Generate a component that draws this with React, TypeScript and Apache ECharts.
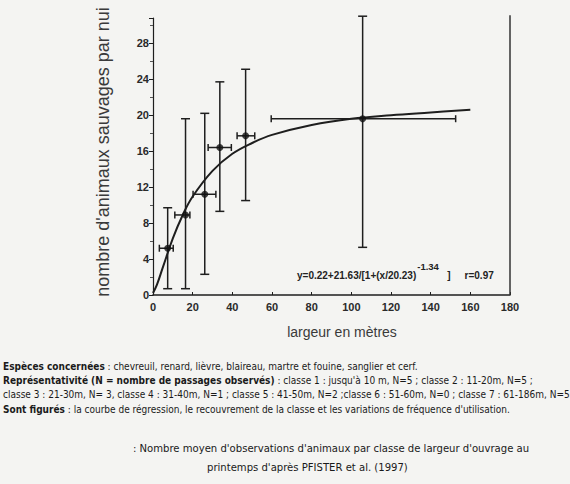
import React, { useEffect, useRef } from "react";
import * as echarts from "echarts";

// Class data
const classX = [7.4, 16.4, 26.1, 33.7, 46.7, 105.7];
const meanY = [5.2, 8.9, 11.2, 16.4, 17.7, 19.6];
const xLow = [3.2, 11.0, 20.2, 27.8, 42.4, 59.6];
const xHigh = [10.2, 18.6, 31.7, 39.5, 51.3, 152.6];
const yLow = [0.7, 0.7, 2.3, 9.3, 10.5, 5.3];
const yHigh = [9.7, 19.6, 20.2, 23.7, 25.1, 31.0];

// Regression curve
const curveX = [0, 2, 5, 10, 15, 20, 30, 40, 50, 60, 80, 100, 120, 140, 160];
const curveY = [0.22, 1.15, 3.1, 6.3, 8.9, 10.95, 13.8, 15.7, 16.9, 17.8, 18.9, 19.6, 20.0, 20.3, 20.6];

// Right frame line
const frameX = [180, 180];
const frameY = [0, 31.1];

const xTicks = [0, 20, 40, 60, 80, 100, 120, 140, 160, 180];
const yTicks = [0, 4, 8, 12, 16, 20, 24, 28];

const yAxisName = "nombre d'animaux sauvages par nui";
const xAxisName = "largeur en mètres";
const equationMain = "y=0.22+21.63/[1+(x/20.23)";
const equationExp = "-1.34";
const equationEnd = "]";
const corr = "r=0.97";

const legendLines = [
  { bold: "Espèces concernées", rest: " : chevreuil, renard, lièvre, blaireau, martre et fouine, sanglier et cerf." },
  { bold: "Représentativité (N = nombre de passages observés)", rest: " : classe 1 : jusqu'à 10 m, N=5 ; classe 2 : 11-20m, N=5 ;" },
  { bold: "", rest: "classe 3 : 21-30m, N= 3, classe 4 : 31-40m, N=1 ; classe 5 : 41-50m, N=2 ;classe 6 : 51-60m, N=0 ; classe 7 : 61-186m, N=5" },
  { bold: "Sont figurés", rest: " : la courbe de régression, le recouvrement de la classe et les variations de fréquence d'utilisation." },
];
const captionLine1 = ": Nombre moyen d'observations d'animaux par classe de largeur d'ouvrage au";
const captionLine2 = "printemps d'après PFISTER et al. (1997)";

export default function App() {
  const ref = useRef<HTMLDivElement>(null);
  useEffect(() => {
    document.body.style.margin = "0";
    const chart = echarts.init(ref.current!, null, { renderer: "svg" });
    const ink = "#1e1e1e";
    const capFont = "'DejaVu Sans Condensed', 'Liberation Sans Narrow', Lato, sans-serif";
    const errData = classX.map((x, i) => [x, meanY[i], xLow[i], xHigh[i], yLow[i], yHigh[i]]);
    const legendY = [366, 380, 394, 409];
    const option: any = {
      animation: false,
      backgroundColor: "#f4f4f2",
      grid: { left: 153, right: 60, top: 18, bottom: 189, containLabel: false },
      xAxis: {
        type: "value",
        min: 0,
        max: 180,
        interval: 20,
        axisLine: { show: true, lineStyle: { color: ink, width: 1.6 } },
        axisTick: { show: true, inside: true, length: 3, lineStyle: { color: ink } },
        splitLine: { show: false },
        axisLabel: {
          color: "#2a2a2a",
          fontWeight: "bold",
          fontSize: 11,
          fontFamily: "'Liberation Sans', Arial, sans-serif",
          margin: 6,
          formatter: (v: number) => (xTicks.includes(v) ? String(v) : ""),
        },
      },
      yAxis: {
        type: "value",
        min: 0,
        max: 30.8,
        interval: 4,
        axisLine: { show: true, lineStyle: { color: ink, width: 1.2 } },
        axisTick: { show: true, length: 4, lineStyle: { color: ink } },
        minorTick: { show: true, splitNumber: 2, length: 3, lineStyle: { color: "#555" } },
        splitLine: { show: false },
        axisLabel: {
          color: "#2a2a2a",
          fontWeight: "bold",
          fontSize: 11,
          fontFamily: "'Liberation Sans', Arial, sans-serif",
          margin: 4,
          showMaxLabel: false,
          formatter: (v: number) => (yTicks.includes(v) ? String(v) : ""),
        },
      },
      series: [
        {
          type: "line",
          data: curveX.map((x, i) => [x, curveY[i]]),
          smooth: 0.4,
          showSymbol: false,
          lineStyle: { color: ink, width: 2 },
          z: 3,
        },
        {
          type: "line",
          data: frameX.map((x, i) => [x, frameY[i]]),
          showSymbol: false,
          clip: false,
          lineStyle: { color: "#333", width: 1.5 },
        },
        {
          type: "custom",
          clip: false,
          data: errData,
          renderItem: (params: any, api: any) => {
            const x = api.value(0), y = api.value(1);
            const pl = api.coord([api.value(2), y]);
            const ph = api.coord([api.value(3), y]);
            const pb = api.coord([x, api.value(4)]);
            const pt = api.coord([x, api.value(5)]);
            const cap = 4.5;
            const st = { stroke: ink, lineWidth: 1.5 };
            return {
              type: "group",
              children: [
                { type: "line", shape: { x1: pb[0], y1: pb[1], x2: pt[0], y2: pt[1] }, style: st },
                { type: "line", shape: { x1: pb[0] - cap, y1: pb[1], x2: pb[0] + cap, y2: pb[1] }, style: st },
                { type: "line", shape: { x1: pt[0] - cap, y1: pt[1], x2: pt[0] + cap, y2: pt[1] }, style: st },
                { type: "line", shape: { x1: pl[0], y1: pl[1], x2: ph[0], y2: ph[1] }, style: st },
                { type: "line", shape: { x1: pl[0], y1: pl[1] - 3.5, x2: pl[0], y2: pl[1] + 3.5 }, style: st },
                { type: "line", shape: { x1: ph[0], y1: ph[1] - 3.5, x2: ph[0], y2: ph[1] + 3.5 }, style: st },
              ],
            };
          },
          z: 4,
        },
        {
          type: "scatter",
          data: classX.map((x, i) => [x, meanY[i]]),
          symbol: "circle",
          symbolSize: 7,
          itemStyle: { color: "#111" },
          z: 5,
        },
      ],
      graphic: [
        {
          type: "text",
          x: 103,
          y: 152,
          rotation: Math.PI / 2,
          style: {
            text: yAxisName,
            font: "18px 'Liberation Sans', Arial, sans-serif",
            fill: "#3a3a3a",
            align: "center",
            verticalAlign: "middle",
          },
        },
        {
          type: "text",
          x: 342,
          y: 332,
          style: {
            text: xAxisName,
            font: "14px 'Liberation Sans', Arial, sans-serif",
            fill: "#3a3a3a",
            align: "center",
            verticalAlign: "middle",
          },
        },
        {
          type: "text",
          x: 297,
          y: 275,
          style: {
            text: "{m|" + equationMain + "}{e|" + equationExp + "}{m|   " + equationEnd + "}{r|" + corr + "}",
            verticalAlign: "middle",
            rich: {
              m: { font: "bold 10px 'Liberation Sans', Arial, sans-serif", fill: "#222" },
              e: { font: "bold 9.5px 'Liberation Sans', Arial, sans-serif", fill: "#222", padding: [0, 0, 18, 1] },
              r: { font: "bold 10px 'Liberation Sans', Arial, sans-serif", fill: "#222", padding: [0, 0, 0, 14] },
            },
          },
        },
        ...legendLines.map((l, i) => ({
          type: "text",
          x: 3,
          y: legendY[i],
          style: {
            text: (l.bold ? "{b|" + l.bold + "}" : "") + "{n|" + l.rest + "}",
            verticalAlign: "middle",
            rich: {
              b: { font: "bold 10px " + capFont, fill: "#1a1a1a" },
              n: { font: "10px " + capFont, fill: "#1a1a1a" },
            },
          },
        })),
        {
          type: "text",
          x: 133,
          y: 448,
          style: { text: captionLine1, font: "11.2px " + capFont, fill: "#1a1a1a", verticalAlign: "middle" },
        },
        {
          type: "text",
          x: 207,
          y: 467,
          style: { text: captionLine2, font: "11.2px " + capFont, fill: "#1a1a1a", verticalAlign: "middle" },
        },
      ],
    };
    chart.setOption(option);
    return () => chart.dispose();
  }, []);
  return <div ref={ref} style={{ position: "absolute", left: 0, top: 0, width: 570, height: 484 }} />;
}
